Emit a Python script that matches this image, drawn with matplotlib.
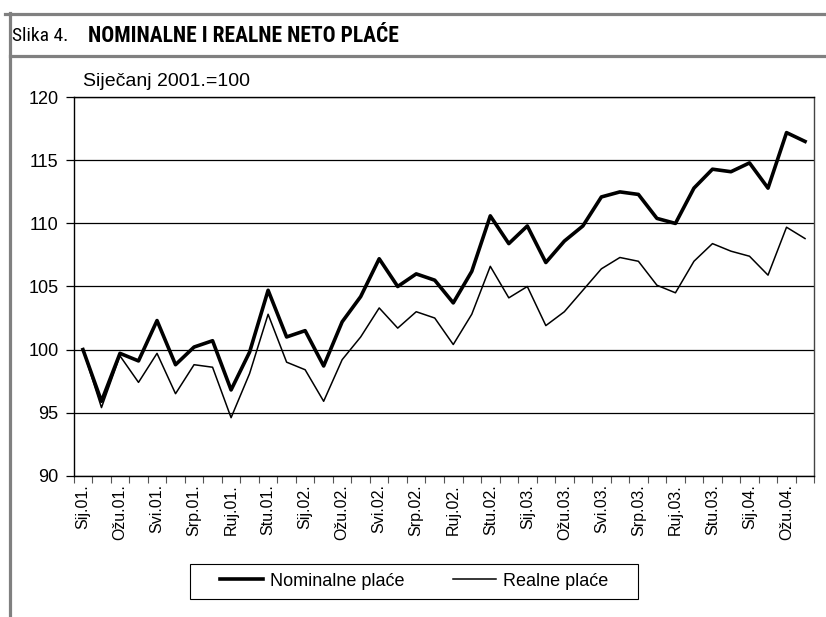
import matplotlib
matplotlib.use("Agg")
import matplotlib.pyplot as plt
from matplotlib.lines import Line2D
from matplotlib.patches import Rectangle
from matplotlib import font_manager as fm

# ---- data ----
months = ["Sij", "Velj", "Ožu", "Tra", "Svi", "Lip", "Srp", "Kol", "Ruj", "Lis", "Stu", "Pro"]
years = ["01", "02", "03", "04"]
categories = [f"{m}.{y}." for y in years for m in months][:40]

nominalne = [100.0, 95.9, 99.7, 99.1, 102.3, 98.8, 100.2, 100.7, 96.8, 99.8,
             104.7, 101.0, 101.5, 98.7, 102.2, 104.2, 107.2, 105.0, 106.0, 105.5,
             103.7, 106.2, 110.6, 108.4, 109.8, 106.9, 108.6, 109.8, 112.1, 112.5,
             112.3, 110.4, 110.0, 112.8, 114.3, 114.1, 114.8, 112.8, 117.2, 116.5]
realne = [100.0, 95.4, 99.5, 97.4, 99.7, 96.5, 98.8, 98.6, 94.6, 98.1,
          102.8, 99.0, 98.4, 95.9, 99.2, 101.0, 103.3, 101.7, 103.0, 102.5,
          100.4, 102.8, 106.6, 104.1, 105.0, 101.9, 103.0, 104.7, 106.4, 107.3,
          107.0, 105.1, 104.5, 107.0, 108.4, 107.8, 107.4, 105.9, 109.7, 108.8]
yticks = [90, 95, 100, 105, 110, 115, 120]

# font
avail = {f.name for f in fm.fontManager.ttflist}
base = "Liberation Sans" if "Liberation Sans" in avail else "DejaVu Sans"
narrow = base
for cand in ["Liberation Sans Narrow", "Roboto Condensed", "Open Sans Condensed", "DejaVu Sans Condensed"]:
    if cand in avail:
        narrow = cand
        break
plt.rcParams['font.family'] = [base, 'DejaVu Sans']

W, H = 826, 617
fig = plt.figure(figsize=(W / 100, H / 100), dpi=100)
ax = fig.add_axes([73.7 / W, 1 - 475.7 / H, (814.3 - 73.7) / W, (475.7 - 97.3) / H])

x = list(range(len(categories)))
ax.plot(x, nominalne, color='black', lw=2.6, label='Nominalne plaće', zorder=3)
ax.plot(x, realne, color='black', lw=1.1, label='Realne plaće', zorder=3)

ax.set_xlim(-0.5, len(categories) - 0.5)
ax.set_ylim(90, 120)
ax.set_yticks(yticks)
ax.set_yticklabels([str(v) for v in yticks], fontsize=13)
ax.yaxis.grid(True, color='black', lw=0.9)
ax.set_axisbelow(True)

# boundaries ticks (major), labels at centres (minor)
ax.set_xticks([i - 0.5 for i in range(len(categories) + 1)])
ax.set_xticklabels([])
ax.set_xticks(x[::2], minor=True)
ax.set_xticklabels(categories[::2], minor=True, rotation=90, fontsize=11.5)
ax.tick_params(axis='x', which='major', length=5, width=0.8, color='#555555', direction='out')
ax.tick_params(axis='x', which='minor', length=0, pad=6)
ax.tick_params(axis='y', length=6, width=0.9, direction='out', pad=5)

for s in ['left', 'bottom', 'top']:
    ax.spines[s].set_color('black')
    ax.spines[s].set_linewidth(1.0)
ax.spines['right'].set_color('#444444')
ax.spines['right'].set_linewidth(1.0)

fig.text(83 / W, 1 - 82 / H, "Siječanj 2001.=100", fontsize=14, ha='left', va='center')

# legend (frameless) + drawn box
leg = fig.legend(loc='center', bbox_to_anchor=(414 / W, 1 - 581.3 / H), ncol=2,
                 fontsize=13, frameon=False,
                 handlelength=2.4, columnspacing=2.7, handletextpad=0.35)
fig.add_artist(Rectangle((190 / W, 1 - 599 / H), (638 - 190) / W, (599 - 564) / H,
                         transform=fig.transFigure, fill=False, edgecolor='black', lw=0.8))

# frame lines (gray)
gray = '#808080'
def fl(x0, y0, x1, y1, lw=2.3):
    fig.add_artist(Line2D([x0 / W, x1 / W], [1 - y0 / H, 1 - y1 / H], color=gray, lw=lw,
                          transform=fig.transFigure))
fl(5, 13.5, 826, 13.5)
fl(9.5, 56, 826, 56)
fl(9.5, 12.5, 9.5, 617)

# title
fig.text(12 / W, 1 - 36 / H, "Slika 4.", family=[narrow, 'DejaVu Sans'], fontsize=14,
         ha='left', va='center')
fig.text(88 / W, 1 - 36 / H, "NOMINALNE I REALNE NETO PLAĆE", family=[narrow, 'DejaVu Sans'],
         fontsize=15.5, fontweight='bold', ha='left', va='center')

fig.savefig("out.png", dpi=100)
